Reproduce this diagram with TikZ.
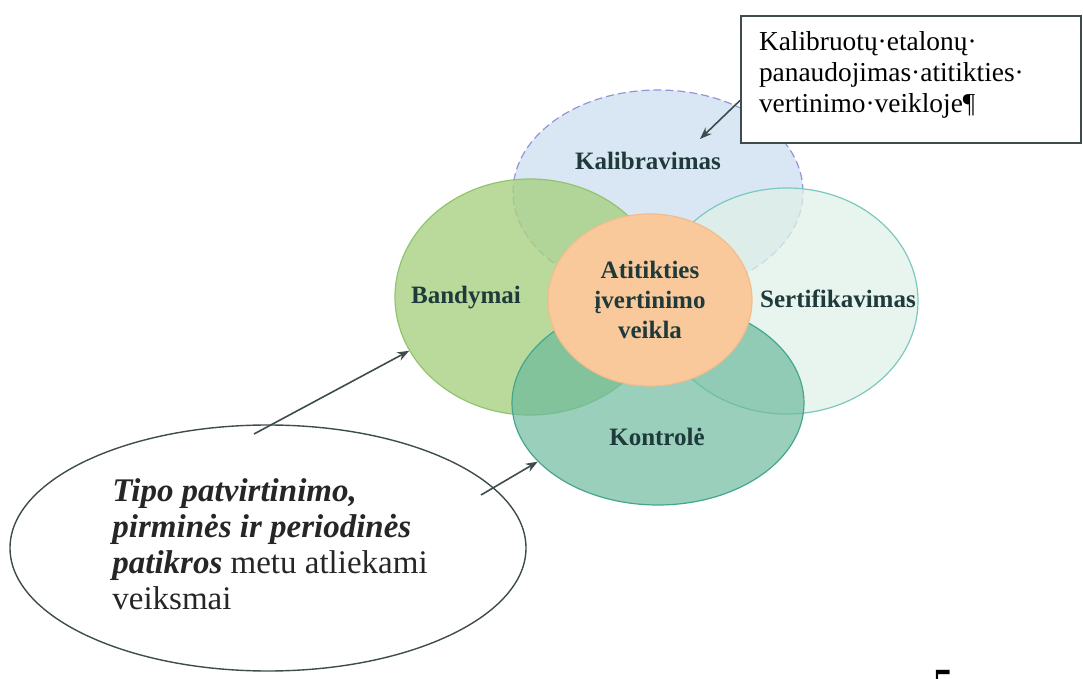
\documentclass[tikz,border=0pt]{standalone}
\usepackage{fontspec}
\setmainfont{Liberation Serif}
\usetikzlibrary{shapes.geometric,arrows.meta}
\definecolor{kalfill}{HTML}{D8E7F3}
\definecolor{kalline}{HTML}{9495D6}
\definecolor{bandfill}{HTML}{A8D182}
\definecolor{bandline}{HTML}{93C36F}
\definecolor{sertfill}{HTML}{E0F1E8}
\definecolor{sertline}{HTML}{7CC8BE}
\definecolor{kontfill}{HTML}{6DBA9E}
\definecolor{kontline}{HTML}{45A68E}
\definecolor{corefill}{HTML}{F9C99C}
\definecolor{coreline}{HTML}{F3BC8C}
\definecolor{labeltext}{HTML}{1E3A3A}
\definecolor{arrowline}{HTML}{3E4C4E}

\begin{document}
\begin{tikzpicture}[x=0.5pt, y=-0.5pt,
    set/.style={ellipse, inner sep=0pt, line width=0.6pt},
    setlabel/.style={text=labeltext, font=\fontsize{12.5}{14}\selectfont\bfseries},
    pointer/.style={draw=arrowline, line width=0.8pt, -{Stealth[length=6pt, width=4.5pt]}}
    ]
  \useasboundingbox (0,0) rectangle (1083,679);
  \node[set, fill=kalfill, draw=kalline, dash pattern=on 4pt off 2pt,
    minimum width=145pt, minimum height=102pt] (kal) at (658,192) {};
  \node[set, fill=bandfill, fill opacity=0.8, draw=bandline,
    minimum width=135pt, minimum height=118pt] (band) at (530,297) {};
  \node[set, fill=sertfill, fill opacity=0.75, draw=sertline,
    minimum width=131pt, minimum height=113pt] (sert) at (787,301) {};
  \node[set, fill=kontfill, fill opacity=0.7, draw=kontline,
    minimum width=146pt, minimum height=102pt] (kont) at (658,403) {};
  \node[set, fill=corefill, draw=coreline, minimum width=102pt, minimum height=86pt,
    align=center, text=labeltext, font=\fontsize{12.5}{14.8}\selectfont\bfseries]
    (core) at (650,300) {Atitikties\\įvertinimo\\veikla};
  \node[setlabel] (kallabel) at (648,161) {Kalibravimas};
  \node[setlabel] (bandlabel) at (466,298) {Bandymai};
  \node[setlabel] (sertlabel) at (838,299) {Sertifikavimas};
  \node[setlabel] (kontlabel) at (657,437) {Kontrolė};

  \node[draw=arrowline, line width=1pt, fill=white, anchor=north west, align=left,
    text width=152pt, minimum height=63.5pt, inner xsep=9pt,
    font=\fontsize{13.7}{15.5}\selectfont] (note) at (740,15)
    {Kalibruotų·etalonų·\\panaudojimas·atitikties·\\vertinimo·veikloje¶\rule[-8pt]{0pt}{1pt}};
  \coordinate (kaltip) at (700,139);
  \draw[pointer] (note.187) -- (kaltip);

  \node[set, draw=arrowline, line width=0.7pt, minimum width=258pt, minimum height=123pt]
    (scope) at (268,548) {};
  \node[anchor=north west, align=left, inner sep=0pt, text=black!85,
    font=\fontsize{16.5}{18}\selectfont] (scopetext) at (112,478)
    {\textbf{\textit{Tipo patvirtinimo,}}\\\textbf{\textit{pirminės ir periodinės}}\\
     \textbf{\textit{patikros}} metu atliekami\\veiksmai};
  \coordinate (bandtail) at (254,434);
  \coordinate (konttail) at (481,495);
  \draw[pointer] (bandtail) -- (band.204);
  \draw[pointer] (konttail) -- (kont.206);

  \node[anchor=north, inner sep=0pt, font=\fontsize{20}{20}\selectfont\bfseries] (pagenum) at (943,670) {5};
\end{tikzpicture}
\end{document}
